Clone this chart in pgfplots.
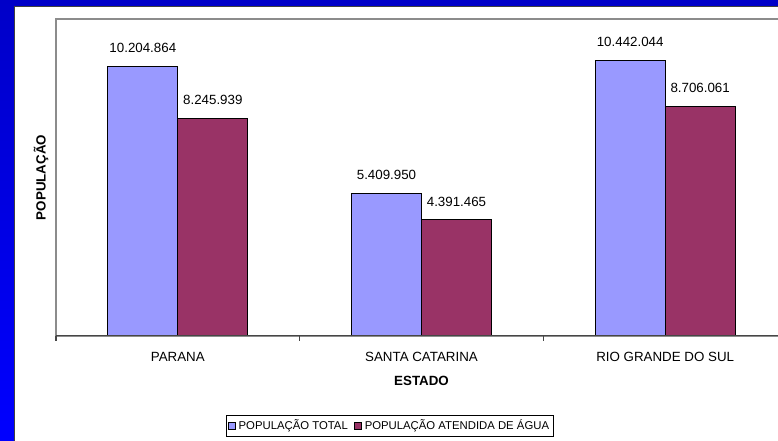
\documentclass[border=0pt]{standalone}
\usepackage{fontspec}
\setmainfont{Liberation Sans}
\usepackage{pgfplots}
\pgfplotsset{compat=1.18}
\usepackage{pgfplotstable}

\definecolor{barblue}{RGB}{153,153,255}
\definecolor{barwine}{RGB}{153,51,102}
\definecolor{axgray}{RGB}{140,140,140}
\definecolor{axdark}{RGB}{70,70,70}
\definecolor{frametop}{RGB}{0,0,200}
\definecolor{framebot}{RGB}{0,0,255}

\pgfplotsset{boxlegend/.style={legend image code/.code={%
    \draw[##1, line width=0.5pt] (0pt,-2.6pt) rectangle (5.2pt,2.6pt);}}}

% population per state
\pgfplotstableread{
x y lab
0 10204864 10.204.864
1 5409950 5.409.950
2 10442044 10.442.044
}\total
\pgfplotstableread{
x y lab
0 8245939 8.245.939
1 4391465 4.391.465
2 8706061 8.706.061
}\agua

\begin{document}
\begin{tikzpicture}
\useasboundingbox (0pt,0pt) rectangle (583.5pt,330.75pt);
\clip (0pt,0pt) rectangle (583.5pt,330.75pt);
\shade[top color=frametop, bottom color=framebot] (0pt,0pt) rectangle (583.5pt,330.75pt);
\fill[white] (11.25pt,-15pt) rectangle (600pt,325.5pt);
\draw[black!75, line width=1pt] (10.9pt,-15pt) |- (600pt,325.9pt);

\begin{axis}[
    at={(42pt,78.75pt)}, anchor=south west,
    width=548.25pt, height=237.75pt, scale only axis,
    xmin=-0.5, xmax=2.5, ymin=0, ymax=12000000,
    ybar=0pt, bar width=52.5pt,
    axis line style={axgray, line width=0.9pt},
    ytick=\empty,
    xtick={0,1,2},
    xticklabels={PARANA, SANTA CATARINA, RIO GRANDE DO SUL},
    xtick pos=left,
    major tick length=0pt,
    extra x ticks={-0.5,0.5,1.5,2.5},
    extra x tick labels={},
    extra x tick style={major tick length=3.5pt, tick align=outside,
        tick style={axdark, line width=0.8pt}},
    xticklabel style={font=\fontsize{10}{12}\selectfont, yshift=-8.5pt},
    xlabel={ESTADO},
    ylabel={POPULAÇÃO},
    xlabel style={font=\bfseries\fontsize{10}{12}\selectfont,
        at={(axis description cs:0.5,-0.142)}, anchor=center},
    ylabel style={font=\bfseries\fontsize{10}{12}\selectfont,
        at={(axis description cs:-0.0205,0.5)}, anchor=center},
    nodes near coords,
    point meta=explicit symbolic,
    every node near coord/.append style={font=\fontsize{10}{12}\selectfont,
        black, yshift=6.4pt},
    legend columns=2,
    legend style={at={(axis description cs:0.457,-0.284)}, anchor=center,
        draw=black, line width=0.6pt, font=\fontsize{8.5}{10}\selectfont,
        inner sep=1.5pt,
        /tikz/every even column/.append style={column sep=3pt}},
]
\addplot[fill=barblue, draw=black, line width=0.75pt, boxlegend]
    table[x=x, y=y, meta=lab] {\total};
\addplot[fill=barwine, draw=black, line width=0.75pt, boxlegend]
    table[x=x, y=y, meta=lab] {\agua};
\draw[axdark, line width=0.9pt] (rel axis cs:0,0) -- (rel axis cs:1,0);
\legend{POPULAÇÃO TOTAL, POPULAÇÃO ATENDIDA DE ÁGUA}
\end{axis}
\end{tikzpicture}
\end{document}
